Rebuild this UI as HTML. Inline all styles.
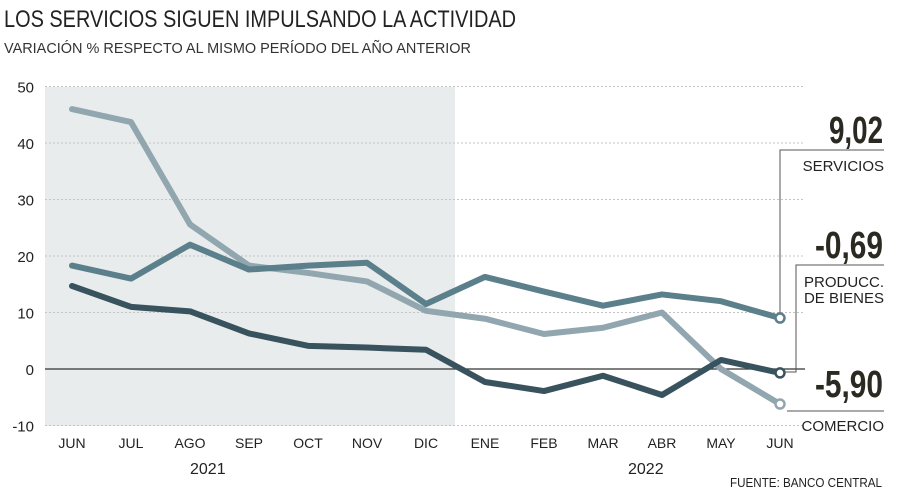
<!DOCTYPE html>
<html><head><meta charset="utf-8"><style>
body{margin:0;background:#fff;}
svg{display:block;font-family:"Liberation Sans",sans-serif;}
</style></head><body>
<svg id="c" width="900" height="499" viewBox="0 0 900 499">
<text x="4" y="27" font-size="24" fill="#222" textLength="512" lengthAdjust="spacingAndGlyphs">LOS SERVICIOS SIGUEN IMPULSANDO LA ACTIVIDAD</text>
<text x="4" y="53" font-size="15" fill="#333" textLength="467" lengthAdjust="spacingAndGlyphs">VARIACIÓN % RESPECTO AL MISMO PERÍODO DEL AÑO ANTERIOR</text>
<rect x="45" y="87" width="410" height="339" fill="#e8ecec"/>
<g id="grid"></g><g id="lines"></g>
<text x="190" y="474" font-size="16" fill="#222">2021</text>
<text x="628" y="474" font-size="16" fill="#222">2022</text>
<text x="730" y="487" font-size="13" fill="#222" textLength="152" lengthAdjust="spacingAndGlyphs">FUENTE: BANCO CENTRAL</text>
<g fill="none" stroke="#555" stroke-width="1">
<polyline points="780,313 780,150 884,150"/>
<polyline points="784,372 796,372 796,265 884,265"/>
<polyline points="787,411 884,411"/>
</g>
<g font-weight="bold" fill="#2b2a22" font-size="38">
<text x="829" y="143" textLength="54" lengthAdjust="spacingAndGlyphs">9,02</text>
<text x="815" y="258" textLength="68" lengthAdjust="spacingAndGlyphs">-0,69</text>
<text x="815" y="397" textLength="68" lengthAdjust="spacingAndGlyphs">-5,90</text>
</g>
<g fill="#222" text-anchor="end" font-size="15">
<text x="884" y="171">SERVICIOS</text>
<text x="884" y="287">PRODUCC.</text>
<text x="884" y="303">DE BIENES</text>
<text x="884" y="431">COMERCIO</text>
</g>
</svg>
<script>
const months=["JUN","JUL","AGO","SEP","OCT","NOV","DIC","ENE","FEB","MAR","ABR","MAY","JUN"];
const yTicks=[50,40,30,20,10,0,-10];
const comercio=[46,43.7,25.6,18.3,17,15.5,10.3,8.9,6.2,7.3,10,0,-6.2];
const servicios=[18.3,16,22,17.6,18.3,18.8,11.5,16.3,13.7,11.2,13.2,12,9.02];
const produccion=[14.7,11,10.2,6.3,4.1,3.8,3.4,-2.3,-3.9,-1.2,-4.6,1.6,-0.69];
const NS="http://www.w3.org/2000/svg";
const x=i=>72+i*59;
const y=v=>369-v*5.65;
function mk(tag,attrs,parent,txt){const e=document.createElementNS(NS,tag);for(const k in attrs)e.setAttribute(k,attrs[k]);if(txt!==undefined)e.textContent=txt;parent.appendChild(e);return e;}
const grid=document.getElementById('grid'),lines=document.getElementById('lines');
yTicks.forEach(t=>{
  const l=mk('line',{x1:45,x2:805,y1:y(t),y2:y(t),stroke:t===0?'#333':'#c4c4c4','stroke-width':t===0?1.2:1,'stroke-dasharray':t===0?'':'2,2'},grid);
  
  
  const tx=mk('text',{x:34,y:y(t)+6,'font-size':15,fill:'#222','text-anchor':'end'},grid,String(t));
  
  
});
months.forEach((m,i)=>{
  const tx=mk('text',{x:x(i),y:448,'font-size':14,fill:'#222','text-anchor':'middle'},grid,m);
  
  
});
function series(d,col,name){
  const p=mk('polyline',{points:d.map((v,i)=>x(i)+','+y(v)).join(' '),fill:'none',stroke:col,'stroke-width':6,'stroke-linejoin':'round','stroke-linecap':'round'},lines);
  
  
  const c=mk('circle',{cx:x(d.length-1),cy:y(d[d.length-1]),r:4.5,fill:'#fff',stroke:col,'stroke-width':2.5},lines);
  
  
}
series(comercio,'#91a6ae','comercio');
series(servicios,'#5b7f8b','servicios');
series(produccion,'#38535d','produccion');
</script>
</body></html>
